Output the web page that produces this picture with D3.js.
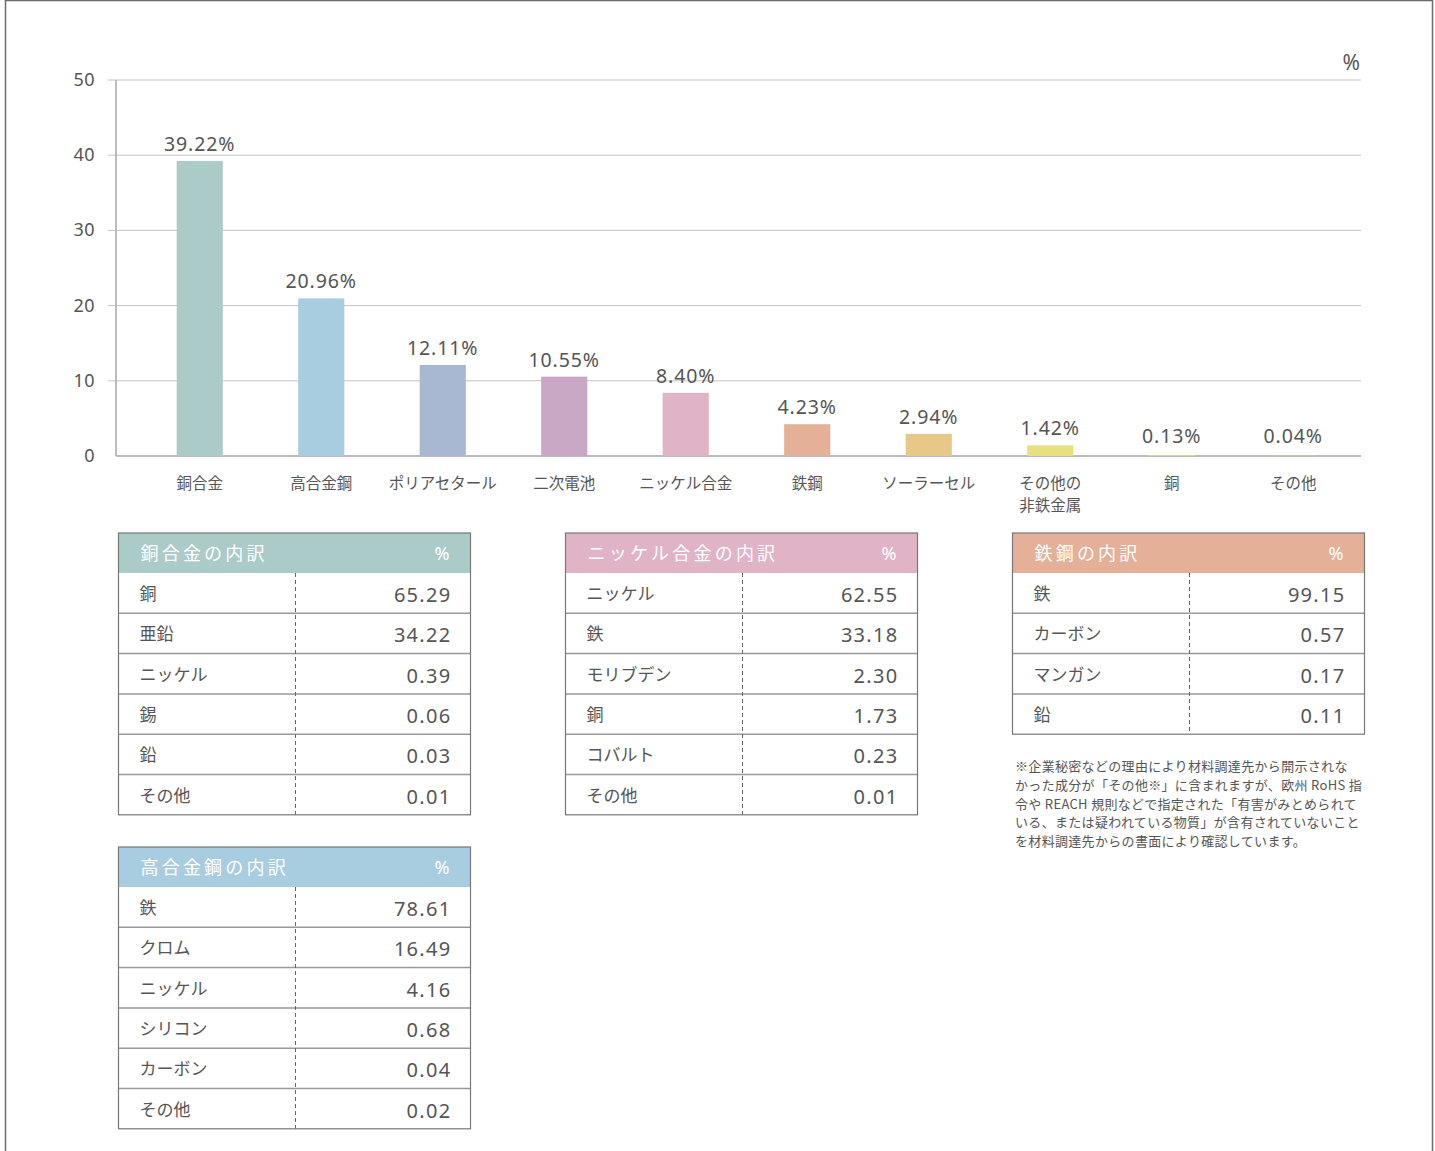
<!DOCTYPE html>
<html>
<head>
<meta charset="utf-8">
<script src="https://cdn.jsdelivr.net/npm/d3@7"></script>
<style>
  body { margin: 0; background: #fff; }
  svg text { font-family: "Noto Sans CJK JP", "Noto Sans", sans-serif; }
  svg text.num { font-family: "Noto Sans", "Noto Sans CJK JP", sans-serif; }
</style>
</head>
<body>
<div id="chart"></div>
<script>
'use strict'

// ---------- data ----------
const categories = ["銅合金", "高合金鋼", "ポリアセタール", "二次電池", "ニッケル合金", "鉄鋼", "ソーラーセル", "その他の\n非鉄金属", "銅", "その他"]
const values = [39.22, 20.96, 12.11, 10.55, 8.40, 4.23, 2.94, 1.42, 0.13, 0.04]
const yTicks = [0, 10, 20, 30, 40, 50]

const copperAlloyItems = ["銅", "亜鉛", "ニッケル", "錫", "鉛", "その他"]
const copperAlloyValues = ["65.29", "34.22", "0.39", "0.06", "0.03", "0.01"]

const nickelAlloyItems = ["ニッケル", "鉄", "モリブデン", "銅", "コバルト", "その他"]
const nickelAlloyValues = ["62.55", "33.18", "2.30", "1.73", "0.23", "0.01"]

const steelItems = ["鉄", "カーボン", "マンガン", "鉛"]
const steelValues = ["99.15", "0.57", "0.17", "0.11"]

const highAlloyItems = ["鉄", "クロム", "ニッケル", "シリコン", "カーボン", "その他"]
const highAlloyValues = ["78.61", "16.49", "4.16", "0.68", "0.04", "0.02"]

const footnote = [
    "※企業秘密などの理由により材料調達先から開示されな",
    "かった成分が「その他※」に含まれますが、欧州 RoHS 指",
    "令や REACH 規則などで指定された「有害がみとめられて",
    "いる、または疑われている物質」が含有されていないこと",
    "を材料調達先からの書面により確認しています。"
]

// ---------- svg setup ----------
const svgWidth = 1435
const svgHeight = 1151
const svg = d3.select("#chart").append("svg")
    .attr("width", svgWidth)
    .attr("height", svgHeight)

// page frame
svg.append("rect")
    .attr("x", 5.5).attr("y", 0.5)
    .attr("width", 1427).attr("height", 1160)
    .attr("fill", "none")
    .attr("stroke", "#6b6b6b")
    .attr("stroke-width", 1.5)

const barColors = ["#abcbc9", "#a8cde0", "#a8b8d3", "#c9a8c6", "#e0b3c6", "#e5b098", "#e8c888", "#e8df80", "#dfdb8c", "#dfdb8c"]

// ---------- scales ----------
const x = d3.scaleBand()
    .domain(categories)
    .range([139, 1354])
    .paddingInner(0.62)
    .paddingOuter(0.31)

const y = d3.scaleLinear()
    .domain([0, 50])
    .range([456, 80])

// ---------- grid & axes ----------
const grid = svg.append("g")
grid.selectAll("line")
    .data(yTicks.filter(d => d > 0))
    .join("line")
    .attr("x1", 108).attr("x2", 1361)
    .attr("y1", d => y(d)).attr("y2", d => y(d))
    .attr("stroke", "#c4c4c4")
    .attr("stroke-width", 1)

const yAxis = d3.axisLeft(y).tickValues(yTicks).tickSize(0).tickPadding(21)
svg.append("g")
    .attr("transform", "translate(116,0)")
    .call(yAxis)
    .call(g => g.select(".domain").remove())
    .selectAll("text")
    .attr("class", "num")
    .attr("font-size", 18)
    .attr("letter-spacing", 0.5)
    .attr("fill", "#555")
    .attr("dy", "0.3em")

svg.append("line")
    .attr("x1", 116).attr("x2", 116)
    .attr("y1", y(50)).attr("y2", y(0))
    .attr("stroke", "#bcbcbc").attr("stroke-width", 2)

svg.append("line")
    .attr("x1", 116).attr("x2", 1361)
    .attr("y1", y(0)).attr("y2", y(0))
    .attr("stroke", "#bcbcbc").attr("stroke-width", 2)

svg.append("text")
    .attr("class", "num")
    .attr("x", 1360).attr("y", 70)
    .attr("text-anchor", "end")
    .attr("font-size", 21)
    .attr("fill", "#555")
    .text("%")

// ---------- bars ----------
svg.append("g").selectAll("rect")
    .data(values)
    .join("rect")
    .attr("x", (d, i) => x(categories[i]))
    .attr("width", x.bandwidth())
    .attr("y", d => y(d))
    .attr("height", d => y(0) - y(d))
    .attr("fill", (d, i) => barColors[i])

svg.append("g").selectAll("text")
    .data(values)
    .join("text")
    .attr("class", "num")
    .attr("x", (d, i) => x(categories[i]) + x.bandwidth() / 2)
    .attr("y", d => Math.min(y(d), y(0) - 3) - 10)
    .attr("text-anchor", "middle")
    .attr("font-size", 19.5)
    .attr("letter-spacing", 0.9)
    .attr("fill", "#555")
    .text(d => d.toFixed(2) + "%")

// category labels
const catLabels = svg.append("g").selectAll("text")
    .data(categories)
    .join("text")
    .attr("x", d => x(d) + x.bandwidth() / 2)
    .attr("y", 489)
    .attr("text-anchor", "middle")
    .attr("font-size", 15.5)
    .attr("fill", "#555")

catLabels.each(function (d) {
    const parts = d.split("\n")
    const t = d3.select(this)
    parts.forEach((p, k) => {
        t.append("tspan")
            .attr("x", t.attr("x"))
            .attr("dy", k === 0 ? 0 : 21.5)
            .text(p)
    })
})

// ---------- breakdown tables ----------
function drawTable(left, top, title, color, items, vals) {
    const w = 352
    const headH = 40
    const rows = d3.scaleBand()
        .domain(d3.range(items.length))
        .range([top + headH, top + headH + items.length * 40.3])

    const g = svg.append("g")

    g.append("rect")
        .attr("x", left).attr("y", top)
        .attr("width", w).attr("height", headH)
        .attr("fill", color)

    g.append("text")
        .attr("x", left + 22).attr("y", top + 27)
        .attr("font-size", 18)
        .attr("letter-spacing", 3.2)
        .attr("fill", "#fff")
        .text(title)

    g.append("text")
        .attr("class", "num")
        .attr("x", left + w - 21).attr("y", top + 27)
        .attr("text-anchor", "end")
        .attr("font-size", 18)
        .attr("fill", "#fff")
        .text("%")

    // row separators
    g.selectAll(".sep")
        .data(d3.range(1, items.length))
        .join("line")
        .attr("x1", left).attr("x2", left + w)
        .attr("y1", i => rows(i)).attr("y2", i => rows(i))
        .attr("stroke", "#999").attr("stroke-width", 1.5)

    // dashed divider
    g.append("line")
        .attr("x1", left + 177).attr("x2", left + 177)
        .attr("y1", top + headH).attr("y2", rows.range()[1])
        .attr("stroke", "#666").attr("stroke-width", 1)
        .attr("stroke-dasharray", "4,3")

    g.selectAll(".item")
        .data(items)
        .join("text")
        .attr("x", left + 21)
        .attr("y", (d, i) => rows(i) + rows.bandwidth() / 2 + 7)
        .attr("font-size", 17)
        .attr("fill", "#555")
        .text(d => d)

    g.selectAll(".val")
        .data(vals)
        .join("text")
        .attr("class", "num")
        .attr("x", left + w - 19)
        .attr("y", (d, i) => rows(i) + rows.bandwidth() / 2 + 9)
        .attr("text-anchor", "end")
        .attr("font-size", 20)
        .attr("letter-spacing", 1.3)
        .attr("fill", "#555")
        .text(d => d)

    // outer frame
    g.append("rect")
        .attr("x", left).attr("y", top)
        .attr("width", w).attr("height", rows.range()[1] - top)
        .attr("fill", "none")
        .attr("stroke", "#777").attr("stroke-width", 1.2)
}

drawTable(118.5, 533, "銅合金の内訳", "#abcbc9", copperAlloyItems, copperAlloyValues)
drawTable(565.5, 533, "ニッケル合金の内訳", "#e0b3c6", nickelAlloyItems, nickelAlloyValues)
drawTable(1012.5, 533, "鉄鋼の内訳", "#e5b098", steelItems, steelValues)
drawTable(118.5, 847, "高合金鋼の内訳", "#a8cde0", highAlloyItems, highAlloyValues)

// ---------- footnote ----------
svg.append("g").selectAll("text")
    .data(footnote)
    .join("text")
    .attr("x", 1015)
    .attr("y", (d, i) => 771 + i * 18.8)
    .attr("font-size", 13)
    .attr("letter-spacing", 0.32)
    .attr("fill", "#555")
    .text(d => d)
</script>
</body>
</html>
